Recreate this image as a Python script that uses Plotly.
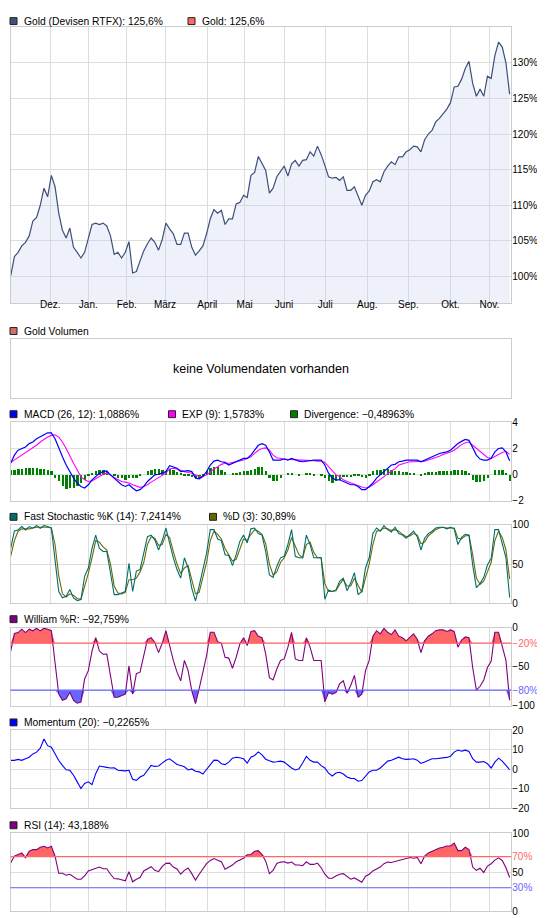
import plotly.graph_objects as go

# every second trading session, starting 2 Nov 2009
days = list(range(0, 272, 2))

# month starts on the session axis
month_ticks = [21.4, 42, 62.8, 83.5, 106.4, 126.6, 147.9, 170.2, 193, 215.2, 237.9, 259]
month_labels = ["Dez.", "Jan.", "Feb.", "März", "April", "Mai", "Juni", "Juli",
                "Aug.", "Sep.", "Okt.", "Nov."]

# Gold (Devisen RTFX), in % of the first close
gold = [100.1, 102.8, 103.4, 104.3, 104.8, 105.7, 107.8, 108.3, 110.0, 112.4,
        111.2, 114.2, 112.6, 108.9, 106.5, 105.4, 106.8, 104.1, 103.4, 102.6,
        103.4, 105.5, 107.3, 107.5, 107.3, 107.5, 107.1, 105.7, 103.1, 103.4,
        102.6, 103.4, 104.9, 100.5, 100.7, 102.2, 103.6, 104.6, 105.4, 104.8,
        103.7, 105.2, 107.5, 106.7, 106.0, 104.5, 104.5, 106.1, 106.1, 104.1,
        103.0, 103.6, 104.3, 106.0, 108.1, 109.4, 108.9, 109.3, 107.3, 108.1,
        108.1, 110.2, 110.4, 111.4, 111.1, 114.2, 114.6, 116.85, 115.8, 114.9,
        111.7, 112.4, 114.0, 114.7, 115.5, 114.1, 115.8, 116.3, 115.5, 116.3,
        116.4, 117.5, 116.9, 118.3, 117.1, 115.6, 114.0, 113.8, 113.9, 113.5,
        114.0, 112.1, 112.1, 112.6, 111.4, 110.0, 111.4, 112.0, 113.3, 113.6,
        113.3, 114.7, 115.5, 116.1, 115.7, 116.8, 116.8, 117.5, 117.8, 118.3,
        118.2, 117.5, 119.2, 120.0, 120.5, 121.7, 122.2, 122.8, 123.5, 124.4,
        126.6, 126.7, 127.7, 129.2, 130.2, 127.1, 125.3, 126.3, 125.3, 128.1,
        127.8, 131.0, 132.9, 132.2, 130.0, 125.6]

macd = [0.89, 1.52, 1.90, 2.03, 2.15, 2.41, 2.53, 2.78, 2.96, 3.09,
        3.24, 3.24, 2.78, 2.03, 1.39, 0.76, 0.25, -0.25, -0.63, -0.89,
        -1.01, -0.76, -0.38, -0.13, 0.13, 0.25, 0.30, 0.0, -0.25, -0.51,
        -0.76, -0.89, -0.76, -1.01, -1.22, -1.14, -0.89, -0.51, -0.25, 0.0,
        0.05, 0.13, 0.25, 0.71, 0.63, 0.51, 0.25, 0.30, 0.33, 0.25,
        -0.25, -0.30, -0.13, 0.25, 0.76, 1.06, 1.14, 1.01, 0.96, 0.76,
        0.89, 1.01, 1.14, 1.27, 1.27, 1.52, 1.90, 2.28, 2.41, 2.28,
        1.77, 1.14, 1.14, 1.14, 1.22, 1.14, 1.27, 1.14, 1.06, 1.01,
        1.06, 1.14, 1.14, 1.14, 1.14, 0.76, 0.13, -0.25, -0.38, -0.38,
        -0.51, -0.63, -0.76, -0.76, -0.89, -1.14, -1.14, -0.89, -0.63, -0.25,
        0.0, 0.25, 0.51, 0.76, 0.81, 1.01, 1.06, 1.14, 1.14, 1.14,
        1.14, 1.01, 1.14, 1.27, 1.39, 1.52, 1.65, 1.72, 1.77, 1.90,
        2.15, 2.41, 2.58, 2.73, 2.66, 2.03, 1.52, 1.22, 1.14, 1.14,
        1.27, 1.77, 2.03, 2.08, 1.77, 1.09]

exp_signal = [0.96, 1.14, 1.32, 1.52, 1.70, 1.90, 2.08, 2.28, 2.53, 2.73,
              2.91, 3.04, 3.09, 2.91, 2.53, 2.03, 1.39, 0.89, 0.38, -0.13,
              -0.38, -0.51, -0.46, -0.30, -0.13, 0.05, 0.13, 0.0, -0.20, -0.38,
              -0.51, -0.56, -0.63, -0.76, -0.89, -0.96, -0.89, -0.76, -0.56, -0.38,
              -0.25, -0.05, 0.13, 0.46, 0.51, 0.46, 0.33, 0.25, 0.18, 0.13,
              0.0, -0.13, -0.13, 0.0, 0.20, 0.46, 0.63, 0.81, 0.89, 0.89,
              0.96, 1.01, 1.06, 1.14, 1.27, 1.39, 1.65, 1.90, 2.03, 2.08,
              1.90, 1.52, 1.32, 1.27, 1.22, 1.19, 1.19, 1.14, 1.14, 1.14,
              1.14, 1.11, 1.09, 1.06, 1.06, 0.96, 0.63, 0.25, 0.0, -0.13,
              -0.38, -0.51, -0.63, -0.71, -0.81, -0.94, -1.01, -0.96, -0.76, -0.56,
              -0.38, -0.13, 0.08, 0.30, 0.46, 0.76, 0.86, 0.94, 1.01, 1.01,
              1.01, 1.01, 1.06, 1.14, 1.22, 1.32, 1.44, 1.57, 1.65, 1.77,
              1.90, 2.15, 2.33, 2.48, 2.53, 2.28, 2.03, 1.77, 1.52, 1.34,
              1.27, 1.39, 1.57, 1.72, 1.82, 1.58]

divergence = [0.38, 0.38, 0.46, 0.46, 0.51, 0.51, 0.53, 0.51, 0.46, 0.46,
              0.38, 0.30, -0.25, -0.51, -0.89, -1.14, -1.01, -1.01, -0.89, -0.63,
              -0.38, -0.13, 0.13, 0.25, 0.38, 0.38, 0.25, 0.0, -0.13, -0.25,
              -0.30, -0.38, -0.25, -0.25, -0.25, -0.13, 0.0, 0.25, 0.38, 0.43,
              0.46, 0.38, 0.25, 0.46, 0.38, 0.20, 0.08, -0.05, -0.13, -0.18,
              -0.30, -0.25, -0.13, 0.25, 0.51, 0.56, 0.56, 0.38, 0.20, 0.0,
              0.05, 0.08, 0.18, 0.25, 0.25, 0.33, 0.46, 0.56, 0.56, 0.30,
              -0.25, -0.51, -0.46, -0.25, 0.0, 0.05, 0.08, 0.0, -0.05, 0.0,
              0.08, 0.05, -0.05, 0.0, -0.05, -0.25, -0.51, -0.63, -0.51, -0.38,
              -0.20, -0.18, -0.18, -0.13, -0.13, -0.20, -0.30, -0.13, 0.25, 0.38,
              0.38, 0.46, 0.46, 0.38, 0.30, 0.25, 0.20, 0.18, 0.13, 0.08,
              0.0, -0.08, 0.08, 0.18, 0.20, 0.20, 0.25, 0.25, 0.25, 0.25,
              0.38, 0.38, 0.38, 0.30, 0.13, -0.38, -0.56, -0.56, -0.46, -0.25,
              0.0, 0.33, 0.38, 0.38, 0.13, -0.49]

stoch_k = [70, 92.4, 93.6, 97.9, 93.6, 97.9, 95.8, 99.2, 95.8, 99.2,
           97.9, 96, 55, 15, 7, 8.9, 17.4, 6.8, 3.4, 4.7,
           34.3, 44.9, 70, 87, 70, 66, 66.1, 41, 11, 11,
           13, 15, 51, 15, 41, 43, 64, 85, 87, 81,
           68, 80, 96, 75, 58, 43, 32, 58, 45, 19,
           3, 22, 43, 64, 94, 94, 82, 80, 62, 61,
           48, 62, 79, 87, 77, 95, 96, 89, 87, 66,
           36, 33, 47, 58, 60, 75, 94, 60, 58, 58,
           87, 75, 58, 58, 58, 5, 17, 15, 17, 28,
           32, 16, 26, 39, 11, 15, 45, 58, 89, 96,
           92, 99, 94, 91, 97, 89, 87, 83, 87, 92,
           85, 68, 83, 89, 92, 96, 97, 97, 95, 97,
           95, 75, 84, 88, 87, 49, 20, 25, 33, 49,
           57, 94, 94, 77, 58, 7.2]

stoch_d = [60, 80, 92, 95, 95, 95, 96, 97, 97, 97,
           97, 96, 75, 35, 12, 8, 12, 10, 6, 5,
           20, 38, 58, 80, 78, 72, 68, 50, 22, 13,
           12, 14, 30, 30, 32, 40, 52, 75, 85, 83,
           74, 75, 88, 84, 66, 50, 38, 45, 48, 30,
           12, 14, 32, 52, 80, 92, 88, 82, 70, 62,
           54, 56, 70, 82, 80, 88, 94, 92, 88, 76,
           50, 36, 40, 52, 58, 68, 84, 72, 62, 58,
           75, 78, 65, 58, 58, 25, 15, 15, 16, 24,
           30, 22, 22, 32, 22, 14, 32, 50, 75, 92,
           93, 96, 95, 93, 94, 92, 88, 85, 86, 89,
           87, 76, 78, 86, 90, 94, 96, 97, 96, 96,
           96, 83, 82, 86, 87, 62, 32, 24, 28, 40,
           52, 80, 92, 84, 68, 30.9]

williams = [-30, -7.6, -6.4, -2.1, -6.4, -2.1, -4.2, -0.8, -4.2, -0.8,
            -2.1, -4, -45, -85, -93, -91.1, -82.6, -93.2, -96.6, -95.3,
            -65.7, -55.1, -30, -13, -30, -34, -33.9, -59, -89, -89,
            -87, -85, -49, -85, -59, -57, -36, -15, -13, -19,
            -32, -20, -4, -25, -42, -57, -68, -42, -55, -81,
            -97, -78, -57, -36, -6, -6, -18, -20, -38, -39,
            -52, -38, -21, -13, -23, -5, -4, -11, -13, -34,
            -64, -67, -53, -42, -40, -25, -6, -40, -42, -42,
            -13, -25, -42, -42, -42, -95, -83, -85, -83, -72,
            -68, -84, -74, -61, -89, -85, -55, -42, -11, -4,
            -8, -1, -6, -9, -3, -11, -13, -17, -13, -8,
            -15, -32, -17, -11, -8, -4, -3, -3, -5, -3,
            -5, -25, -16, -12, -13, -51, -80, -75, -67, -51,
            -43, -6, -6, -23, -42, -92.8]

momentum = [4.6, 4.6, 5.1, 4.6, 5.4, 6.2, 7.9, 8.8, 10.8, 15.5,
            12.1, 11.3, 8.0, 4.5, 2.0, -0.2, -0.5, -3.0, -6.4, -9.8,
            -7.2, -6.4, -7.8, -2.2, 1.7, 1.2, 1.0, 0.7, 0.8, -0.5,
            -0.7, -0.8, -0.5, -5.1, -5.6, -3.9, -3.0, -0.7, 2.0, 1.5,
            1.7, 3.2, 4.6, 5.4, 4.0, 2.5, 2.0, 1.3, -0.3, 0.2,
            -1.0, -1.3, -2.4, 0.0, 2.4, 4.7, 4.6, 2.9, 2.4, 3.7,
            5.7, 6.2, 5.9, 5.4, 3.2, 6.2, 7.1, 8.9, 7.4, 5.2,
            4.4, 3.7, 3.9, 4.2, 3.7, 2.0, 0.7, -0.3, 0.3, 3.2,
            6.6, 4.6, 3.7, 3.7, 1.9, 0.7, -1.9, -3.4, -1.9, -1.5,
            -2.4, -3.9, -4.6, -4.7, -6.1, -5.7, -3.4, -1.3, -0.5, -0.5,
            0.7, 2.4, 4.2, 4.6, 5.4, 6.2, 5.4, 5.1, 5.2, 5.4,
            4.7, 3.0, 3.7, 4.6, 5.4, 5.4, 5.7, 5.7, 6.1, 6.7,
            8.8, 9.9, 9.3, 9.8, 9.1, 5.4, 3.7, 3.7, 4.0, 2.9,
            0.7, 3.7, 5.7, 4.2, 2.0, -0.2]

rsi = [62.0, 70.5, 72.6, 74.7, 68.4, 76.8, 78.9, 78.9, 81.9, 83.1,
       81.0, 83.1, 70.5, 48.5, 48.5, 46.0, 47.3, 44.3, 40.9, 40.9,
       45.1, 51.5, 53.2, 55.7, 56.5, 54.4, 54.4, 47.3, 41.8, 41.4,
       39.7, 38.8, 50.6, 37.6, 40.9, 43.0, 51.5, 54.0, 57.0, 52.3,
       50.6, 57.4, 61.2, 61.6, 56.5, 54.0, 47.3, 52.3, 55.3, 48.1,
       39.7, 47.3, 54.0, 60.8, 65.0, 67.5, 65.4, 63.3, 53.6, 56.5,
       59.1, 63.3, 65.8, 67.9, 72.2, 72.6, 76.8, 77.6, 72.6, 64.1,
       48.1, 52.3, 61.2, 62.9, 63.3, 61.6, 62.9, 59.1, 59.1, 58.2,
       63.3, 59.9, 59.9, 61.6, 55.7, 47.3, 42.2, 42.2, 45.1, 47.3,
       48.1, 43.9, 40.9, 42.6, 39.7, 37.1, 44.7, 47.3, 51.5, 53.6,
       56.5, 60.8, 62.9, 62.4, 63.7, 65.4, 66.2, 67.5, 68.8, 67.9,
       68.8, 60.8, 70.5, 74.7, 76.8, 79.3, 81.0, 81.9, 83.5, 83.5,
       87.3, 77.6, 77.6, 81.9, 78.9, 56.5, 52.3, 54.9, 49.4, 57.8,
       60.8, 65.4, 68.4, 65.0, 55.7, 43.2]

W, H = 545, 918
GRID = "#dddddd"
FRAME = "#cccccc"
RED = "#ff6666"
BLUE = "#6666ff"
FONT = "Liberation Sans"

x_dom = [2.5 / W, 503.3 / W]
x_range = [-0.11, 270.9]


def ydom(top, bottom):
    return [1 - bottom / H, 1 - top / H]


def xaxis(anchor, labels=False, grid=True):
    return dict(domain=x_dom, range=x_range, anchor=anchor, tickvals=month_ticks,
                ticktext=month_labels, showticklabels=labels, showgrid=grid,
                gridcolor=GRID, zeroline=False, showline=True, mirror=True,
                linecolor=FRAME, ticks="", ticklen=0, ticklabelstandoff=-8,
                tickfont=dict(size=10))


def yaxis(anchor, top, bottom, rng, vals, texts, grid=True):
    return dict(domain=ydom(top, bottom), range=rng, anchor=anchor, side="right",
                tickvals=vals, ticktext=texts, showgrid=grid, gridcolor=GRID,
                zeroline=False, showline=True, mirror=True, linecolor=FRAME,
                ticks="", ticklen=0, ticklabelstandoff=-2,
                tickfont=dict(size=10), showticklabels=len(vals) > 0)


def red(s):
    return '<span style="color:%s">%s</span>' % (RED, s)


def blue(s):
    return '<span style="color:%s">%s</span>' % (BLUE, s)


fig = go.Figure()

# price panel
fig.add_trace(go.Scatter(x=days, y=gold, mode="lines", fill="tozeroy",
                         fillcolor="rgba(198,208,238,0.3)",
                         line=dict(color="#3d4f7b", width=1.2), xaxis="x", yaxis="y"))

# volume panel (empty)
fig.add_trace(go.Scatter(x=[], y=[], xaxis="x2", yaxis="y2"))

# MACD
fig.add_trace(go.Bar(x=days, y=divergence, width=1.0, marker=dict(color="#008000", line_width=0),
                     xaxis="x3", yaxis="y3"))
fig.add_trace(go.Scatter(x=days, y=exp_signal, mode="lines", line=dict(color="#ff00ff", width=1.1),
                         xaxis="x3", yaxis="y3"))
fig.add_trace(go.Scatter(x=days, y=macd, mode="lines", line=dict(color="#0000ff", width=1.2),
                         xaxis="x3", yaxis="y3"))

# fast stochastic
fig.add_trace(go.Scatter(x=days, y=stoch_d, mode="lines", line=dict(color="#6b6b00", width=1.1),
                         xaxis="x4", yaxis="y4"))
fig.add_trace(go.Scatter(x=days, y=stoch_k, mode="lines", line=dict(color="#006d6d", width=1.1),
                         xaxis="x4", yaxis="y4"))

# william %R with zone fills
over = [max(v, -20) for v in williams]
under = [min(v, -80) for v in williams]
fig.add_trace(go.Scatter(x=days, y=[-20] * len(days), mode="lines", line=dict(width=0),
                         xaxis="x5", yaxis="y5"))
fig.add_trace(go.Scatter(x=days, y=over, mode="lines", line=dict(width=0), fill="tonexty",
                         fillcolor=RED, xaxis="x5", yaxis="y5"))
fig.add_trace(go.Scatter(x=days, y=[-80] * len(days), mode="lines", line=dict(width=0),
                         xaxis="x5", yaxis="y5"))
fig.add_trace(go.Scatter(x=days, y=under, mode="lines", line=dict(width=0), fill="tonexty",
                         fillcolor=BLUE, xaxis="x5", yaxis="y5"))
fig.add_trace(go.Scatter(x=days, y=williams, mode="lines", line=dict(color="#800080", width=1.1),
                         xaxis="x5", yaxis="y5"))

# momentum
fig.add_trace(go.Scatter(x=days, y=momentum, mode="lines", line=dict(color="#0000ff", width=1.1),
                         xaxis="x6", yaxis="y6"))

# RSI
rsi_over = [max(v, 70) for v in rsi]
fig.add_trace(go.Scatter(x=days, y=[70] * len(days), mode="lines", line=dict(width=0),
                         xaxis="x7", yaxis="y7"))
fig.add_trace(go.Scatter(x=days, y=rsi_over, mode="lines", line=dict(width=0), fill="tonexty",
                         fillcolor=RED, xaxis="x7", yaxis="y7"))
fig.add_trace(go.Scatter(x=days, y=rsi, mode="lines", line=dict(color="#800080", width=1.1),
                         xaxis="x7", yaxis="y7"))

fig.update_layout(
    width=W, height=H, margin=dict(l=0, r=0, t=0, b=0),
    paper_bgcolor="white", plot_bgcolor="white", showlegend=False,
    font=dict(family=FONT, size=10.3, color="black"), bargap=0,
    xaxis=xaxis("y", labels=True),
    yaxis=yaxis("x", 13.3, 293.3, [96.22, 135.0], [100, 105, 110, 115, 120, 125, 130],
                ["100%", "105%", "110%", "115%", "120%", "125%", "130%"]),
    xaxis2=xaxis("y2", grid=False),
    yaxis2=yaxis("x2", 329.3, 389.3, [0, 1], [], [], grid=False),
    xaxis3=xaxis("y3"),
    yaxis3=yaxis("x3", 413.7, 493.3, [-2, 4.05], [-2, 0, 2, 4], ["−2", "0", "2", "4"]),
    xaxis4=xaxis("y4"),
    yaxis4=yaxis("x4", 517.7, 597, [0, 100], [0, 50, 100], ["0", "50", "100"]),
    xaxis5=xaxis("y5"),
    yaxis5=yaxis("x5", 621.7, 701, [-100, 0], [-100, -80, -50, -20, 0],
                 ["−100", blue("−80%"), "−50", red("−20%"), "0"]),
    xaxis6=xaxis("y6"),
    yaxis6=yaxis("x6", 725.7, 805, [-20, 20], [-20, -10, 0, 10, 20],
                 ["−20", "−10", "0", "10", "20"]),
    xaxis7=xaxis("y7"),
    yaxis7=yaxis("x7", 830, 909, [0, 100], [0, 30, 50, 70, 100],
                 ["0", blue("30%"), "50", red("70%"), "100"]),
)

# zone lines
for ax, level, color in [("5", -20, RED), ("5", -80, BLUE), ("7", 70, RED), ("7", 30, BLUE)]:
    fig.add_shape(type="line", xref="x%s domain" % ax, yref="y%s" % ax, x0=0, x1=1,
                  y0=level, y1=level, line=dict(color=color, width=1.2), layer="above")

# panel captions with colour keys
captions = [
    (7.2, [(2, "#3d5378", "Gold (Devisen RTFX): 125,6%"), (180, "#ff6666", "Gold: 125,6%")]),
    (321.2, [(2, "#d96b6b", "Gold Volumen")]),
    (405.5, [(2, "#0000ff", "MACD (26, 12): 1,0886%"), (160.5, "#ff00ff", "EXP (9): 1,5783%"),
             (282.5, "#008000", "Divergence: −0,48963%")]),
    (509.5, [(2, "#006d6d", "Fast Stochastic %K (14): 7,2414%"), (201.5, "#666600", "%D (3): 30,89%")]),
    (613.2, [(2, "#800080", "William %R: −92,759%")]),
    (717.8, [(2, "#0000ff", "Momentum (20): −0,2265%")]),
    (822, [(2, "#800080", "RSI (14): 43,188%")]),
]
for yc, items in captions:
    for x0, color, label in items:
        fig.add_shape(type="rect", xref="paper", yref="paper",
                      x0=x0 / W, x1=(x0 + 7) / W, y0=1 - (yc + 3.5) / H, y1=1 - (yc - 3.5) / H,
                      fillcolor=color, line=dict(color="#222222", width=1))
        fig.add_annotation(xref="paper", yref="paper", x=(x0 + 11.5) / W, y=1 - yc / H,
                           xanchor="left", yanchor="middle", text=label, showarrow=False,
                           font=dict(size=10.3))

fig.add_annotation(xref="x2 domain", yref="y2 domain", x=0.5, y=0.5, text="keine Volumendaten vorhanden",
                   showarrow=False, font=dict(size=12.5))

fig.write_html("out.html")
